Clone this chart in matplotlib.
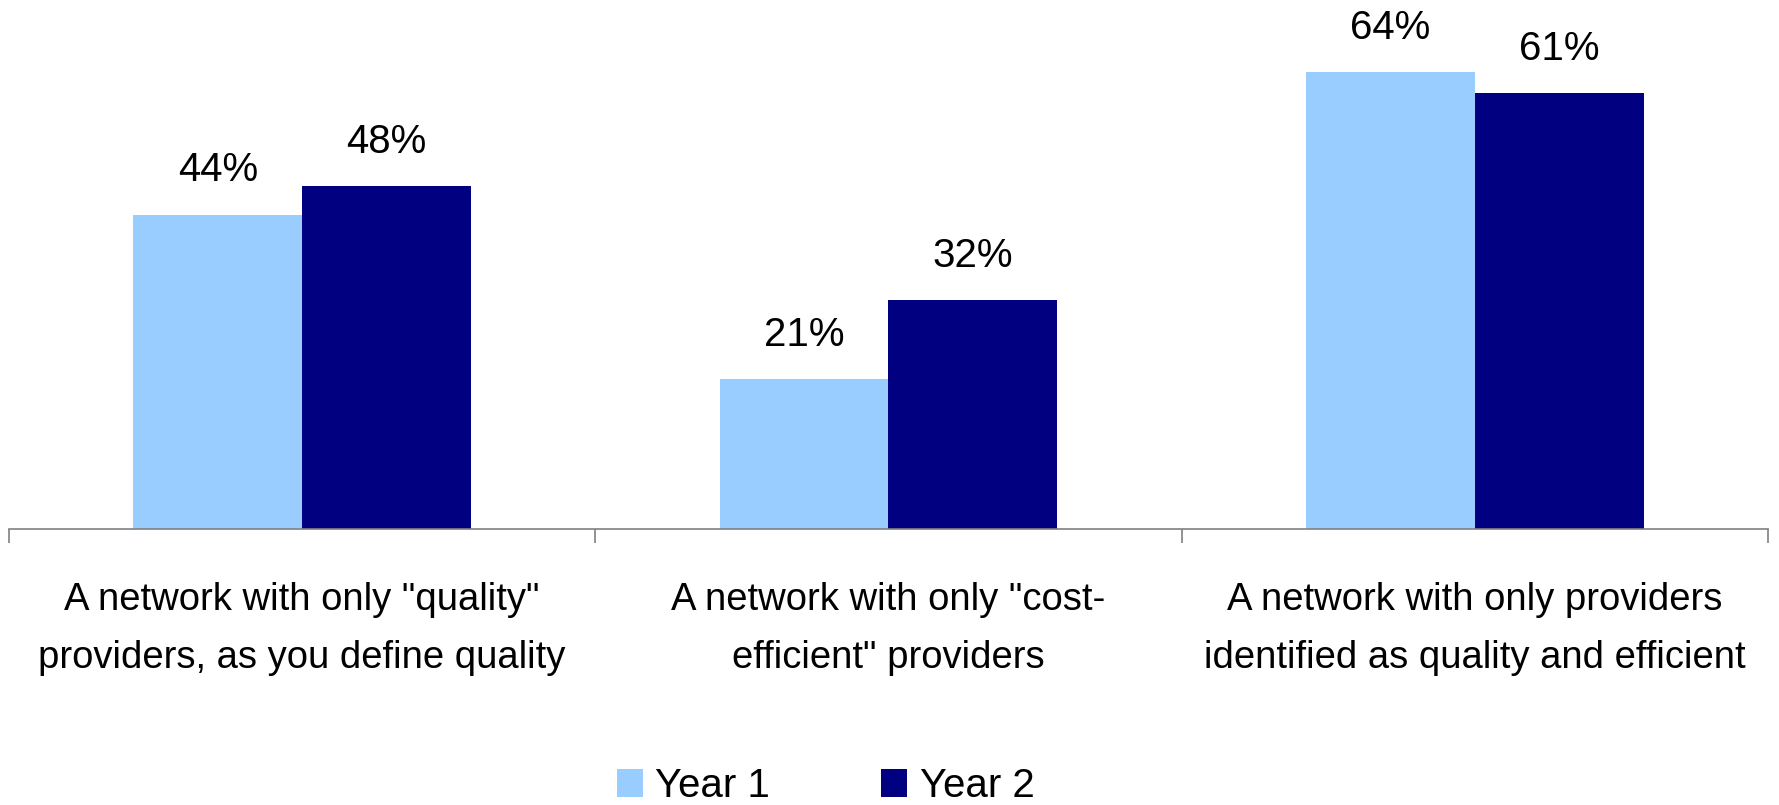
import matplotlib
matplotlib.use("Agg")
import matplotlib.pyplot as plt
from matplotlib.patches import Patch
import numpy as np

plt.rcParams['font.family'] = ['Liberation Sans', 'DejaVu Sans']

categories = ['A network with only "quality"\nproviders, as you define quality',
              'A network with only "cost-\nefficient" providers',
              'A network with only providers\nidentified as quality and efficient']
series_names = ['Year 1', 'Year 2']
year1 = [44, 21, 64]
year2 = [48, 32, 61]
colors = ['#99CCFF', '#000080']

W, H = 1779, 805
fig = plt.figure(figsize=(W / 100, H / 100), dpi=100)
ax = fig.add_axes([9 / W, (H - 529) / H, (1768 - 9) / W, 500 / H])

x = np.arange(len(categories))
bw = 0.288
for vals, off, c in [(year1, -bw / 2, colors[0]), (year2, bw / 2, colors[1])]:
    ax.bar(x + off, vals, width=bw, color=c, linewidth=0)
    for xi, v in zip(x + off, vals):
        ax.annotate(f'{v}%', (xi, v), xytext=(0, 24), textcoords='offset points',
                    ha='center', va='baseline', fontsize=29, color='black')

ax.set_xlim(-0.5, 2.5)
ax.set_ylim(0, 70)
for s in ['top', 'right', 'left']:
    ax.spines[s].set_visible(False)
ax.spines['bottom'].set_color('#808080')
ax.spines['bottom'].set_linewidth(1.2)
ax.set_yticks([])
ax.set_xticks(x)
ax.set_xticklabels(categories, fontsize=27.5, linespacing=1.8)
ax.tick_params(axis='x', which='major', length=0, pad=38)
ax.set_xticks([-0.5, 0.5, 1.5, 2.5], minor=True)
ax.tick_params(axis='x', which='minor', length=10, width=1.2, color='#808080', direction='out')

handles = [Patch(facecolor=c, edgecolor='none') for c in colors]
fig.legend(handles, series_names, loc='center left', bbox_to_anchor=(617 / W, 0.023),
           ncol=2, frameon=False, fontsize=29, handlelength=0.65, handleheight=0.7,
           handletextpad=0.3, columnspacing=2.76, borderpad=0, borderaxespad=0)

fig.savefig('out.png', dpi=100)
